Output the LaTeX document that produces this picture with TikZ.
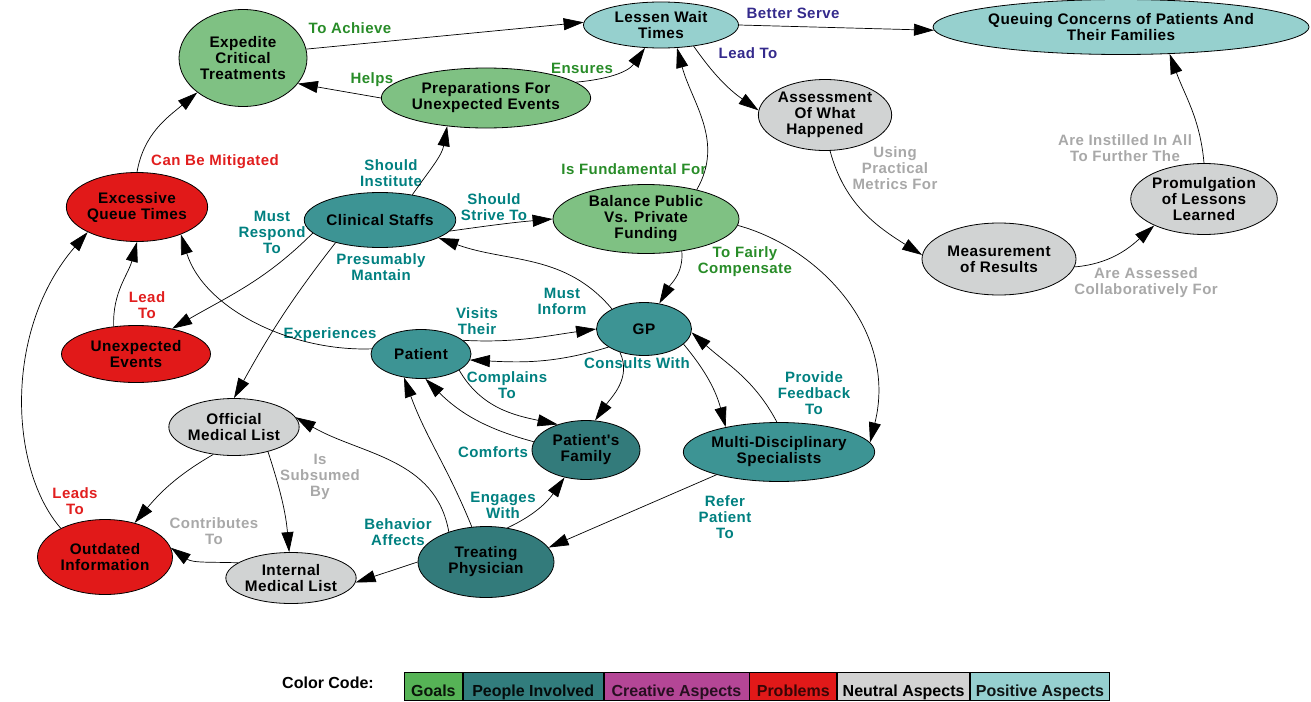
\documentclass[tikz,border=0pt]{standalone}
\usepackage{fontspec}
\setmainfont{Liberation Sans}
\newfontfamily\cmapfont{Liberation Sans}[LetterSpace=3]
\newfontfamily\legfont{Liberation Sans}
\usetikzlibrary{arrows.meta,shapes.geometric}

\definecolor{goalfill}{RGB}{127,193,131}
\definecolor{peoplefill}{RGB}{61,148,148}
\definecolor{peopledark}{RGB}{51,123,123}
\definecolor{problemfill}{RGB}{225,25,25}
\definecolor{neutralfill}{RGB}{209,211,211}
\definecolor{positivefill}{RGB}{150,208,206}
\definecolor{leggoal}{RGB}{86,179,86}
\definecolor{legpeople}{RGB}{50,125,125}
\definecolor{legcreative}{RGB}{180,70,150}
\definecolor{legproblem}{RGB}{225,25,25}
\definecolor{legneutral}{RGB}{210,210,210}
\definecolor{legpositive}{RGB}{150,208,208}
\definecolor{labgreen}{RGB}{40,140,40}
\definecolor{labteal}{RGB}{0,128,128}
\definecolor{labred}{RGB}{225,30,30}
\definecolor{labgray}{RGB}{168,168,168}
\definecolor{labpurple}{RGB}{52,42,140}

\tikzset{
  concept/.style={ellipse, draw=black, line width=0.8pt, inner sep=0pt,
    align=center, text=black,
    font=\cmapfont\bfseries\fontsize{15.3}{16}\selectfont},
  goal/.style={concept, fill=goalfill},
  people/.style={concept, fill=peoplefill},
  peopled/.style={concept, fill=peopledark},
  problem/.style={concept, fill=problemfill},
  neutral/.style={concept, fill=neutralfill},
  positive/.style={concept, fill=positivefill},
  lab/.style={inner sep=0pt, align=center,
    font=\cmapfont\bfseries\fontsize{15}{16}\selectfont},
  edge/.style={-{Triangle[length=20pt,width=12pt]}, line width=0.7pt, black},
  legbox/.style={rectangle, draw=black, line width=0.8pt, inner sep=0pt,
    minimum height=28pt, text height=20pt, text depth=0pt,
    font=\legfont\bfseries\fontsize{16}{18}\selectfont},
}

\begin{document}
\begin{tikzpicture}[x=1pt,y=1pt]
\useasboundingbox (0,0) rectangle (1311,-701);

% concepts
\node[positive, minimum width=155, minimum height=46] (lessen) at (661,-25) {Lessen Wait\\Times};
\node[positive, minimum width=376, minimum height=55] (queuing) at (1121,-27) {Queuing Concerns of Patients And\\Their Families};
\node[goal, minimum width=128, minimum height=97] (expedite) at (243,-58) {Expedite\\Critical\\Treatments};
\node[goal, minimum width=199, minimum height=60] (prep) at (486,-98) {Preparations For\\Unexpected Events};
\node[problem, minimum width=138, minimum height=69] (excessive) at (137,-207) {Excessive\\Queue Times};
\node[people, minimum width=149, minimum height=55] (clinical) at (380,-220) {Clinical Staffs};
\node[goal, minimum width=186, minimum height=69] (balance) at (646,-219) {Balance Public\\Vs. Private\\Funding};
\node[neutral, minimum width=128, minimum height=71] (assessment) at (825,-115) {Assessment\\Of What\\Happened};
\node[neutral, minimum width=139, minimum height=71] (promulgation) at (1204,-199) {Promulgation\\of Lessons\\Learned};
\node[neutral, minimum width=154, minimum height=72] (measurement) at (999,-259) {Measurement\\of Results};
\node[people, minimum width=95, minimum height=53] (gp) at (644,-329) {GP};
\node[problem, minimum width=149, minimum height=57] (unexpected) at (136,-354) {Unexpected\\Events};
\node[people, minimum width=100, minimum height=49] (patient) at (421,-354) {Patient};
\node[neutral, minimum width=124, minimum height=57] (official) at (234,-427) {Official\\Medical List};
\node[peopled, minimum width=108, minimum height=59] (family) at (586,-450) {Patient's\\Family};
\node[people, minimum width=181, minimum height=59] (multi) at (779,-452) {Multi-Disciplinary\\Specialists};
\node[problem, minimum width=135, minimum height=75] (outdated) at (105,-557) {Outdated\\Information};
\node[neutral, minimum width=124, minimum height=51] (internal) at (291,-578) {Internal\\Medical List};
\node[peopled, minimum width=136, minimum height=71] (treating) at (486,-562) {Treating\\Physician};

% linking phrases
\node[lab, text=labgreen] (lToAchieve) at (350,-28) {To Achieve};
\node[lab, text=labgreen] (lHelps) at (372,-80) {Helps};
\node[lab, text=labgreen] (lEnsures) at (582,-68) {Ensures};
\node[lab, text=labpurple] (lBetter) at (793,-13) {Better Serve};
\node[lab, text=labpurple] (lLeadTo) at (748,-53) {Lead To};
\node[lab, text=labred] (lMitigated) at (215,-162) {Can Be Mitigated};
\node[lab, text=labteal] (lInstitute) at (391,-173) {Should\\Institute};
\node[lab, text=labteal] (lRespond) at (272,-232) {Must\\Respond\\To};
\node[lab, text=labteal] (lMantain) at (381,-267) {Presumably\\Mantain};
\node[lab, text=labred] (lLeadRed) at (147,-305) {Lead\\To};
\node[lab, text=labteal] (lStrive) at (494,-207) {Should\\Strive To};
\node[lab, text=labgreen] (lFundamental) at (634,-169) {Is Fundamental For};
\node[lab, text=labgreen] (lCompensate) at (745,-262) {To Fairly\\Compensate};
\node[lab, text=labteal] (lInform) at (562,-301) {Must\\Inform};
\node[lab, text=labteal] (lVisits) at (477,-321) {Visits\\Their};
\node[lab, text=labteal] (lExperiences) at (330,-335) {Experiences};
\node[lab, text=labteal] (lComplains) at (507,-385) {Complains\\To};
\node[lab, text=labteal] (lConsults) at (637,-363) {Consults With};
\node[lab, text=labteal] (lFeedback) at (814,-393) {Provide\\Feedback\\To};
\node[lab, text=labteal] (lComforts) at (493,-452) {Comforts};
\node[lab, text=labteal] (lEngages) at (503,-505) {Engages\\With};
\node[lab, text=labteal] (lRefer) at (725,-517) {Refer\\Patient\\To};
\node[lab, text=labteal] (lBehavior) at (398,-532) {Behavior\\Affects};
\node[lab, text=labred] (lLeadsTo) at (75,-501) {Leads\\To};
\node[lab, text=labgray] (lSubsumed) at (320,-477) {Is\\Subsumed\\By};
\node[lab, text=labgray] (lContributes) at (214,-531) {Contributes\\To};
\node[lab, text=labgray] (lMetrics) at (895,-168) {Using\\Practical\\Metrics For};
\node[lab, text=labgray] (lInstilled) at (1125,-148) {Are Instilled In All\\To Further The};
\node[lab, text=labgray] (lAssessed) at (1146,-283) {Are Assessed\\Collaboratively For};

% connectors
\draw[edge] (expedite.8) -- (lessen.178);
\draw[edge] (prep.180) -- (expedite.335);
\draw[edge] (prep.10) to[out=5,in=235] (lessen.235);
\draw[edge] (lessen.east) -- (queuing.181);
\draw[edge] (lessen.327) to[out=-55,in=145] (assessment.176);
\draw[edge] (excessive.90) to[out=80,in=220] (expedite.217);
\draw[edge] (clinical.38) to[out=55,in=260] (prep.216);
\draw[edge] (clinical.351) to[out=8,in=185] (balance.180);
\draw[edge] (balance.30) to[out=60,in=285] (lessen.305);
\draw[edge] (balance.318) to[out=-85,in=60] (gp.59);
\draw[edge] (balance.356) .. controls +(81,-22) and +(28,112) .. (multi.6);
\draw[edge] (gp.148) to[out=130,in=340] (clinical.343);
\draw[edge] (clinical.191) to[out=-135,in=30] (unexpected.35);
\draw[edge] (clinical.207) to[out=-128,in=61] (official.90);
\draw[edge] (unexpected.129) to[out=92,in=255] (excessive.270);
\draw[edge] (patient.174) .. controls +(-81,-3) and +(23,-74) .. (excessive.328);
\draw[edge] (outdated.147) .. controls +(-52,60) and +(-84,-97) .. (excessive.207);
\draw[edge] (patient.18) to[out=-3,in=188] (gp.180);
\draw[edge] (gp.207) to[out=197,in=357] (patient.353);
\draw[edge] (gp.224) to[out=-65,in=55] (family.73);
\draw[edge] (gp.339) to[out=-50,in=105] (multi.155);
\draw[edge] (multi.94) to[out=118,in=318] (gp.356);
\draw[edge] (patient.337) to[out=-60,in=168] (family.138);
\draw[edge] (family.171) to[out=165,in=315] (patient.280);
\draw[edge] (treating.112) to[out=112,in=290] (patient.234);
\draw[edge] (treating.58) to[out=25,in=235] (family.232);
\draw[edge] (treating.141) to[out=100,in=330] (official.9);
\draw[edge] (treating.180) -- (internal.356);
\draw[edge] (multi.200) -- (treating.13);
\draw[edge] (official.233) to[out=-150,in=50] (outdated.49);
\draw[edge] (official.324) to[out=-72,in=95] (internal.94);
\draw[edge] (internal.164) to[out=178,in=325] (outdated.8);
\draw[edge] (assessment.278) to[out=-75,in=148] (measurement.177);
\draw[edge] (measurement.354) to[out=5,in=222] (promulgation.208);
\draw[edge] (promulgation.90) to[out=95,in=290] (queuing.331);

% colour legend
\node[inner sep=0pt, font=\legfont\bfseries\fontsize{16}{18}\selectfont] (legtitle) at (328,-683) {Color Code:};
\node[legbox, fill=leggoal, text=leggoal!12!black, minimum width=58, anchor=west] (kGoals) at (404,-686) {Goals};
\node[legbox, fill=legpeople, text=legpeople!10!black, minimum width=140, anchor=west] (kPeople) at (kGoals.east) {People Involved};
\node[legbox, fill=legcreative, text=legcreative!22!black, minimum width=145, anchor=west] (kCreative) at (kPeople.east) {Creative Aspects};
\node[legbox, fill=legproblem, text=legproblem!25!black, minimum width=87, anchor=west] (kProblems) at (kCreative.east) {Problems};
\node[legbox, fill=legneutral, text=black, minimum width=132, anchor=west] (kNeutral) at (kProblems.east) {Neutral Aspects};
\node[legbox, fill=legpositive, text=legpositive!10!black, minimum width=139, anchor=west] (kPositive) at (kNeutral.east) {Positive Aspects};
\end{tikzpicture}
\end{document}
